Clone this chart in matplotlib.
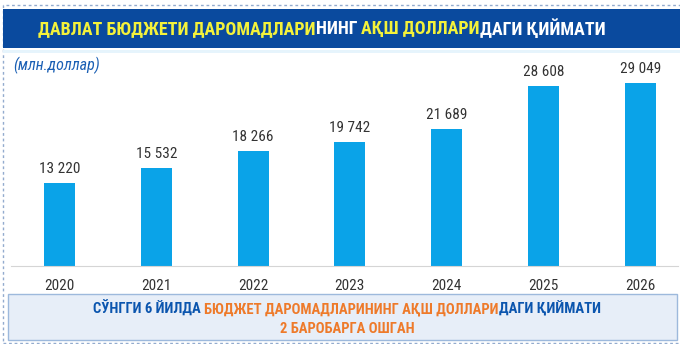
import matplotlib
matplotlib.use("Agg")
import matplotlib.pyplot as plt
from matplotlib.patches import Rectangle

# Давлат бюджети даромадлари, млн. доллар
years = ["2020", "2021", "2022", "2023", "2024", "2025", "2026"]
revenue = [13220, 15532, 18266, 19742, 21689, 28608, 29049]
value_labels = ["13 220", "15 532", "18 266", "19 742", "21 689", "28 608", "29 049"]

title_runs = [
    ("ДАВЛАТ БЮДЖЕТИ ДАРОМАДЛАРИ", "#F4F23A"),
    ("НИНГ ", "white"),
    ("АҚШ ДОЛЛАРИ", "#F4F23A"),
    ("ДАГИ ҚИЙМАТИ", "white"),
]
note_line1 = [
    ("СЎНГГИ 6 ЙИЛДА ", "#0B55AE"),
    ("БЮДЖЕТ ДАРОМАДЛАРИНИНГ АҚШ ДОЛЛАРИ", "#EE7A2A"),
    ("ДАГИ ҚИЙМАТИ", "#0B55AE"),
]
note_line2 = [("2 БАРОБАРГА ОШГАН", "#EE7A2A")]
unit_label = "(млн.доллар)"

W, H = 680, 344
FONT = ["Roboto Condensed", "Roboto", "DejaVu Sans"]
NAVY = "#0A4A9E"
BAR = "#0AA3E8"


def fx(x):
    return x / W


def fy(y):
    return 1 - y / H


def draw_runs(fig, x, y, runs, ha="left", **kw):
    """Пишет строку из кусков разного цвета (x, y в пикселях сверху-слева)."""
    r = fig.canvas.get_renderer()

    def width(s):
        t = fig.text(0, 0, s, **kw)
        w = t.get_window_extent(r).width
        t.remove()
        return w

    full = "".join(s for s, _ in runs)
    ref = width("Ш")
    x0 = x - width(full) / 2 if ha == "center" else x
    prefix = ""
    for s, c in runs:
        off = width(prefix + "Ш") - ref if prefix else 0
        fig.text(fx(x0 + off), fy(y), s, color=c, ha="left", va="center", **kw)
        prefix += s


fig = plt.figure(figsize=(W / 100, H / 100), dpi=100)
fig.patch.set_facecolor("white")

# пунктирная рамка и синяя шапка
fig.add_artist(Rectangle((fx(3), fy(343)), fx(690), (343 - 5) / H, transform=fig.transFigure,
                         fill=False, ec="#93ABCE", lw=1, ls=(0, (2, 2))))
fig.add_artist(Rectangle((fx(3), fy(48)), fx(680), 39 / H, transform=fig.transFigure,
                         color=NAVY, lw=0))
fig.add_artist(Rectangle((fx(3), fy(53)), fx(680), 3 / H, transform=fig.transFigure,
                         color="#E6F4FC", lw=0))
draw_runs(fig, 38, 29, title_runs, fontsize=13, fontweight="bold", family=FONT)

fig.text(fx(13), fy(65), unit_label, color="#1A5FB4", fontsize=11.5, style="italic",
         family=FONT, ha="left", va="center")

# столбики
ax = fig.add_axes([fx(11), fy(266), (678 - 11) / W, (266 - 60) / H])
x = list(range(len(years)))
bars = ax.bar(x, revenue, width=0.32, color=BAR)
for rect, lab in zip(bars, value_labels):
    ax.annotate(lab, (rect.get_x() + rect.get_width() / 2, rect.get_height()),
                xytext=(0, 5), textcoords="offset points", ha="center", va="bottom",
                fontsize=11, color="#333333", family=FONT)

ax.set_xlim(-0.501, 6.39)
ax.set_ylim(0, 32670)
ax.set_xticks(x, years)
ax.tick_params(axis="x", length=0, pad=9, labelsize=11, labelcolor="#333333")
for lab in ax.get_xticklabels():
    lab.set_family(FONT)
ax.set_yticks([])
for side in ["top", "left", "right"]:
    ax.spines[side].set_visible(False)
ax.spines["bottom"].set_color("#D5D5D5")
ax.patch.set_alpha(0)

# нижняя плашка с выводом
fig.add_artist(Rectangle((fx(8), fy(340)), (677 - 8) / W, (340 - 294) / H,
                         transform=fig.transFigure, fc="#E7EEF8", ec="#9DB9DC", lw=1))
draw_runs(fig, 347, 309, note_line1, ha="center", fontsize=10.5, fontweight="bold", family=FONT)
draw_runs(fig, 347, 329, note_line2, ha="center", fontsize=10.5, fontweight="bold", family=FONT)

fig.savefig("out.png", dpi=100)
